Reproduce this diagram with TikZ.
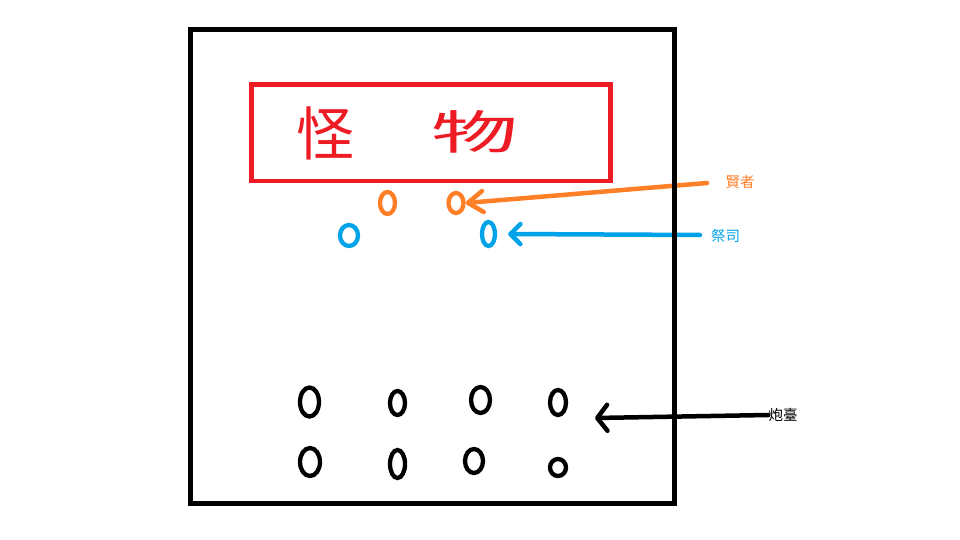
\documentclass[tikz,border=0pt]{standalone}
\usepackage{fontspec}
\newfontfamily\cjk{Noto Sans CJK TC}
\usetikzlibrary{arrows.meta}
\definecolor{pred}{HTML}{ED1C24}
\definecolor{porange}{HTML}{FF7F27}
\definecolor{pblue}{HTML}{00A2E8}
\tikzset{
  px/.style={x=1pt,y=-1pt},
  oval/.style={draw,line width=4.3pt,ellipse,minimum width=19pt,minimum height=28pt,inner sep=0pt},
  lbl/.style={font=\cjk\fontsize{14.5}{16}\selectfont,inner sep=0pt},
  big/.style={font=\cjk\fontsize{58}{60}\selectfont,inner sep=0pt,text=pred},
  conn/.style={line width=4.5pt,line cap=round,line join=round},
}
\usetikzlibrary{shapes.geometric}
\begin{document}
\begin{tikzpicture}[px]
\useasboundingbox (0,0) rectangle (960,540);
\fill[white] (0,0) rectangle (960,540);
% red title box
\node[draw=pred,line width=4.5pt,minimum width=359pt,minimum height=96.5pt,inner sep=0pt] (title) at (431,132.75) {};
\node[big] (guai) at (325,133) {怪};
\node[big,xscale=1.5,yscale=0.8] (wu) at (475,132) {物};
% small ovals
\node[oval,draw=porange,minimum width=15pt,minimum height=22pt] (o1) at (387.5,203) {};
\node[oval,draw=porange,minimum width=15pt,minimum height=20pt] (o2) at (456,203) {};
\node[oval,draw=pblue,minimum width=18pt,minimum height=21pt] (b1) at (349,235.5) {};
\node[oval,draw=pblue,minimum width=13pt,minimum height=24pt] (b2) at (488.5,234) {};
% bottom ovals
\node[oval,minimum width=19pt,minimum height=29pt] (t1) at (309.5,402) {};
\node[oval,minimum width=15pt,minimum height=24pt] (t2) at (397.5,403) {};
\node[oval,minimum width=19pt,minimum height=26pt] (t3) at (480.5,400) {};
\node[oval,minimum width=16pt,minimum height=25pt] (t4) at (558,402.5) {};
\node[oval,minimum width=20pt,minimum height=28pt] (t5) at (310,462) {};
\node[oval,minimum width=15pt,minimum height=28pt] (t6) at (397.5,464) {};
\node[oval,minimum width=18pt,minimum height=24pt] (t7) at (474,461) {};
\node[oval,minimum width=16pt,minimum height=17pt] (t8) at (558,467.5) {};
% labels
\node[lbl,text=porange] (sage) at (740,182) {賢者};
\node[lbl,text=pblue] (priest) at (725.5,236) {祭司};
\node[lbl,text=black] (tower) at (783,415) {炮臺};
% connectors
\coordinate (sA) at (707,183);
\coordinate (sB) at (700,235);
\coordinate (tC) at (595,418);
\draw[conn,porange,-{Straight Barb[length=15pt,width=21pt,line cap=round,line join=round]}] (sA) -- (o2.east);
\draw[conn,pblue,-{Straight Barb[length=10pt,width=20pt,line cap=round,line join=round]}] (sB) -- ([xshift=11pt]b2.east);
\draw[conn,black,-{Straight Barb[length=10pt,width=26pt,line cap=round,line join=round]}] (tower.west) -- (tC);
% frame
\node[draw,line width=5pt,minimum width=484pt,minimum height=473.5pt,inner sep=0pt] (frame) at (432.5,266.25) {};
\end{tikzpicture}
\end{document}
